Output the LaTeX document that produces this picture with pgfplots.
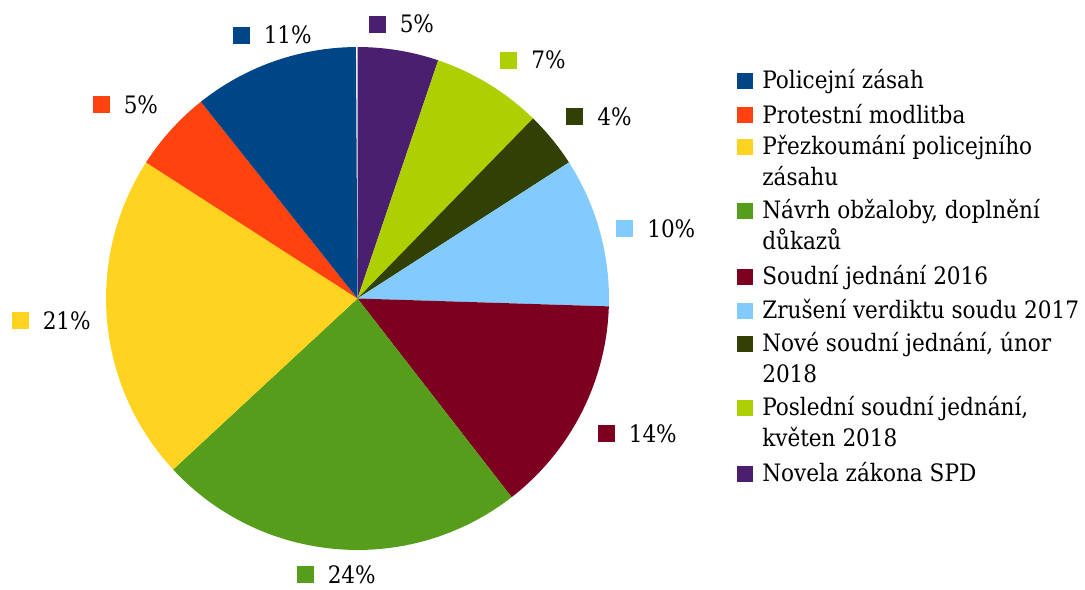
\documentclass[border=0pt]{standalone}
\usepackage{pgfplots}
\pgfplotsset{compat=1.18}
\usepackage{pgfplotstable}
\usepackage{fontspec}
\setmainfont{DejaVu Serif Condensed}

\definecolor{cPol}{HTML}{004586}
\definecolor{cProt}{HTML}{FF420E}
\definecolor{cPrez}{HTML}{FFD320}
\definecolor{cNavrh}{HTML}{579D1C}
\definecolor{cSoud}{HTML}{7E0021}
\definecolor{cZrus}{HTML}{83CAFF}
\definecolor{cNove}{HTML}{314004}
\definecolor{cPosl}{HTML}{AECF00}
\definecolor{cNov}{HTML}{4B1F6F}

\newcommand\chartfont{\fontsize{18pt}{23.25pt}\selectfont}

% slices clockwise from 12 o'clock; share in %, label = printed %, (lx,ly) = label square centre
\pgfplotstableread{
share col   lab lx    ly
5.2   cNov  5   377   564.5
7.1   cPosl 7   508.5 528.5
3.6   cNove 4   574.5 472
9.6   cZrus 10  624.5 360
14.0  cSoud 14  606   155
23.6  cNavrh 24 305   14.5
21.0  cPrez 21  20    268
5.2   cProt 5   101   484
10.6  cPol  11  241   553.5
}\piedata

% legend entry: colour, square centre y, first line, second line
\newcommand\legentry[4]{%
  \fill[#1] (axis cs:737,#2-8) rectangle (axis cs:753,#2+8);
  \node[anchor=base west, inner sep=0pt, font=\chartfont] at (axis cs:762,#2-8) {#3};
  \node[anchor=base west, inner sep=0pt, font=\chartfont] at (axis cs:762,#2-39) {#4};
}

\begin{document}
\def\cum{0}%
\pgfplotsforeachungrouped \i in {0,...,8}{%
  \pgfplotstablegetelem{\i}{share}\of\piedata
  \pgfmathsetmacro\sa{90-3.6*\cum}%
  \pgfmathsetmacro\cum{\cum+\pgfplotsretval}%
  \pgfmathsetmacro\ea{90-3.6*\cum}%
  \expandafter\xdef\csname sa\i\endcsname{\sa}%
  \expandafter\xdef\csname ea\i\endcsname{\ea}%
  \pgfplotstablegetelem{\i}{col}\of\piedata
  \expandafter\xdef\csname col\i\endcsname{\pgfplotsretval}%
  \pgfplotstablegetelem{\i}{lab}\of\piedata
  \expandafter\xdef\csname lab\i\endcsname{\pgfplotsretval}%
  \pgfplotstablegetelem{\i}{lx}\of\piedata
  \expandafter\xdef\csname lx\i\endcsname{\pgfplotsretval}%
  \pgfplotstablegetelem{\i}{ly}\of\piedata
  \expandafter\xdef\csname ly\i\endcsname{\pgfplotsretval}%
}%
\begin{tikzpicture}
\begin{axis}[
    hide axis,
    scale only axis,
    width=813.75pt, height=441.75pt,
    xmin=0, xmax=1085, ymin=0, ymax=589,
    clip=false,
]
\path (axis cs:0,0) rectangle (axis cs:1085,589);
% pie slices
\pgfplotsinvokeforeach{0,...,8}{%
  \edef\temp{\noexpand\fill[\csname col#1\endcsname]
    (axis cs:357.5,290.5) -- ++(\csname sa#1\endcsname:188.6pt)
    arc[start angle=\csname sa#1\endcsname, end angle=\csname ea#1\endcsname, radius=188.6pt] -- cycle;
    \noexpand\fill[\csname col#1\endcsname]
    (axis cs:\csname lx#1\endcsname-8.5,\csname ly#1\endcsname-8.5) rectangle
    (axis cs:\csname lx#1\endcsname+8.5,\csname ly#1\endcsname+8.5);
    \noexpand\node[anchor=base west, inner sep=0pt, font=\noexpand\chartfont]
    at (axis cs:\csname lx#1\endcsname+22.5,\csname ly#1\endcsname-8.5) {\csname lab#1\endcsname\noexpand\%};}%
  \temp
}
% legend
\legentry{cPol}{508}{Policejní zásah}{}
\legentry{cProt}{473.5}{Protestní modlitba}{}
\legentry{cPrez}{442}{Přezkoumání policejního}{zásahu}
\legentry{cNavrh}{378}{Návrh obžaloby, doplnění}{důkazů}
\legentry{cSoud}{312}{Soudní jednání 2016}{}
\legentry{cZrus}{278}{Zrušení verdiktu soudu 2017}{}
\legentry{cNove}{245}{Nové soudní jednání, únor}{2018}
\legentry{cPosl}{181}{Poslední soudní jednání,}{květen 2018}
\legentry{cNov}{115}{Novela zákona SPD}{}
\end{axis}
\end{tikzpicture}
\end{document}
